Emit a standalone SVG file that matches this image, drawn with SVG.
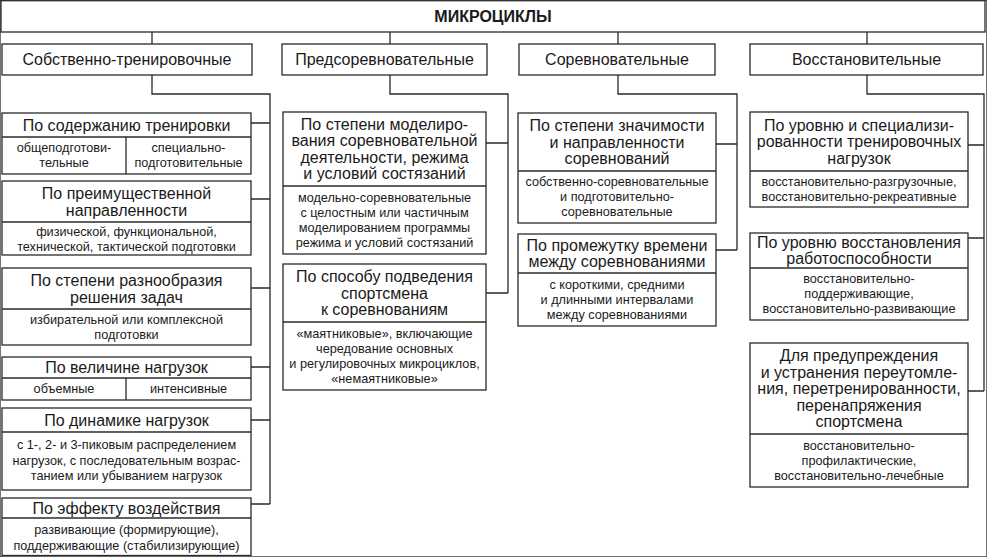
<svg xmlns="http://www.w3.org/2000/svg" width="987" height="557" viewBox="0 0 987 557">
<style>
rect, line.d {fill:#fff;stroke:#2a2a2a;stroke-width:1.3}
.d {stroke:#2a2a2a;stroke-width:1.3}
#connectors path {fill:none;stroke:#2a2a2a;stroke-width:1.3}
text {font-family:"Liberation Sans",Arial,sans-serif;fill:#1a1a1a;text-anchor:middle}
.t {font-size:16px;font-weight:bold}
.h {font-size:16px}
.c {font-size:12.7px}
</style>
<rect width="987" height="557" fill="#fff" stroke="none"/>
<g id="connectors">
<path d="M152 32V44M390 32V44M618 32V44M867 32V44"/>
<path d="M152 75V94H270V504M251 123H270M251 199H270M251 288H270M251 367H270M251 420H270M251 504H270"/>
<path d="M390 75V94H508V293M486 143H508M486 293H508"/>
<path d="M618 75V94H737V250M716 144H737M716 250H737"/>
<path d="M867 75V94H984V391M968 145H984M968 238H984M968 391H984"/>
</g>
<g id="root">
<rect x="1" y="0.7" width="984" height="31.3"/>
<text class="t" x="493" y="22">МИКРОЦИКЛЫ</text>
</g>
<g id="cat1"><rect x="2" y="44" width="250" height="31"/><text class="h" x="127" y="65.3">Собственно-тренировочные</text></g>
<g id="cat2"><rect x="282" y="44" width="205" height="31"/><text class="h" x="384.5" y="65.3">Предсоревновательные</text></g>
<g id="cat3"><rect x="519" y="44" width="196" height="31"/><text class="h" x="617" y="65.3">Соревновательные</text></g>
<g id="cat4"><rect x="750" y="44" width="233" height="31"/><text class="h" x="866.5" y="65.3">Восстановительные</text></g>

<g id="a">
<rect x="2" y="113" width="249" height="61"/>
<line class="d" x1="2" y1="137" x2="251" y2="137"/>
<line class="d" x1="126" y1="137" x2="126" y2="174"/>
<text class="h" x="126.5" y="130.6">По содержанию тренировки</text>
<text class="c" x="64" y="152.4">общеподготови-</text>
<text class="c" x="64" y="167.4">тельные</text>
<text class="c" x="188.5" y="152.4">специально-</text>
<text class="c" x="188.5" y="167.4">подготовительные</text>
</g>
<g id="b">
<rect x="2" y="181" width="249" height="74"/>
<line class="d" x1="2" y1="222" x2="251" y2="222"/>
<text class="h" x="126.5" y="198.6">По преимущественной</text>
<text class="h" x="126.5" y="215.6">направленности</text>
<text class="c" x="126.5" y="236">физической, функциональной,</text>
<text class="c" x="126.5" y="251">технической, тактической подготовки</text>
</g>
<g id="c">
<rect x="2" y="268" width="249" height="77"/>
<line class="d" x1="2" y1="309" x2="251" y2="309"/>
<text class="h" x="126.5" y="285.6">По степени разнообразия</text>
<text class="h" x="126.5" y="302.6">решения задач</text>
<text class="c" x="126.5" y="324.4">избирательной или комплексной</text>
<text class="c" x="126.5" y="339.4">подготовки</text>
</g>
<g id="d">
<rect x="2" y="357" width="249" height="43"/>
<line class="d" x1="2" y1="378" x2="251" y2="378"/>
<line class="d" x1="126" y1="378" x2="126" y2="400"/>
<text class="h" x="126.5" y="373.1">По величине нагрузок</text>
<text class="c" x="64" y="393.4">объемные</text>
<text class="c" x="188.5" y="393.4">интенсивные</text>
</g>
<g id="e">
<rect x="2" y="408" width="249" height="82"/>
<line class="d" x1="2" y1="432" x2="251" y2="432"/>
<text class="h" x="126.5" y="425.6">По динамике нагрузок</text>
<text class="c" x="126.5" y="449">с 1-, 2- и  3-пиковым распределением</text>
<text class="c" x="126.5" y="464.5">нагрузок, с последовательным возрас-</text>
<text class="c" x="126.5" y="480">танием или убыванием нагрузок</text>
</g>
<g id="f">
<rect x="2" y="498" width="249" height="57.5"/>
<line class="d" x1="2" y1="518" x2="251" y2="518"/>
<text class="h" x="126.5" y="513.6">По эффекту воздействия</text>
<text class="c" x="126.5" y="534">развивающие (формирующие),</text>
<text class="c" x="126.5" y="549.5">поддерживающие (стабилизирующие)</text>
</g>

<g id="g">
<rect x="283" y="112" width="203" height="142"/>
<line class="d" x1="283" y1="186" x2="486" y2="186"/>
<text class="h" x="384.5" y="129.8">По степени моделиро-</text>
<text class="h" x="384.5" y="146.3">вания соревновательной</text>
<text class="h" x="384.5" y="162.8">деятельности, режима</text>
<text class="h" x="384.5" y="179.3">и условий состязаний</text>
<text class="c" x="384.5" y="202">модельно-соревновательные</text>
<text class="c" x="384.5" y="217">с целостным или частичным</text>
<text class="c" x="384.5" y="232">моделированием программы</text>
<text class="c" x="384.5" y="247">режима и условий состязаний</text>
</g>
<g id="h">
<rect x="283" y="264" width="203" height="126"/>
<line class="d" x1="283" y1="322" x2="486" y2="322"/>
<text class="h" x="384.5" y="282.1">По способу подведения</text>
<text class="h" x="384.5" y="298.6">спортсмена</text>
<text class="h" x="384.5" y="315.1">к соревнованиям</text>
<text class="c" x="384.5" y="338">«маятниковые», включающие</text>
<text class="c" x="384.5" y="353">чередование основных</text>
<text class="c" x="384.5" y="368">и регулировочных микроциклов,</text>
<text class="c" x="384.5" y="383">«немаятниковые»</text>
</g>

<g id="i">
<rect x="518" y="113" width="198" height="110"/>
<line class="d" x1="518" y1="171" x2="716" y2="171"/>
<text class="h" x="617" y="131.1">По степени значимости</text>
<text class="h" x="617" y="147.6">и направленности</text>
<text class="h" x="617" y="164.1">соревнований</text>
<text class="c" x="617" y="186.4">собственно-соревновательные</text>
<text class="c" x="617" y="201.4">и подготовительно-</text>
<text class="c" x="617" y="216.4">соревновательные</text>
</g>
<g id="j">
<rect x="518" y="234" width="198" height="92"/>
<line class="d" x1="518" y1="273" x2="716" y2="273"/>
<text class="h" x="617" y="250.8">По промежутку времени</text>
<text class="h" x="617" y="267.3">между соревнованиями</text>
<text class="c" x="617" y="289">с короткими, средними</text>
<text class="c" x="617" y="304">и длинными интервалами</text>
<text class="c" x="617" y="319">между соревнованиями</text>
</g>

<g id="k">
<rect x="750" y="112" width="218" height="95"/>
<line class="d" x1="750" y1="171" x2="968" y2="171"/>
<text class="h" x="859" y="130.6">По уровню и специализи-</text>
<text class="h" x="859" y="147.1">рованности тренировочных</text>
<text class="h" x="859" y="163.6">нагрузок</text>
<text class="c" x="859" y="185.9">восстановительно-разгрузочные,</text>
<text class="c" x="859" y="200.9">восстановительно-рекреативные</text>
</g>
<g id="l">
<rect x="750" y="233" width="218" height="87"/>
<line class="d" x1="750" y1="268" x2="968" y2="268"/>
<text class="h" x="859" y="247.8">По уровню восстановления</text>
<text class="h" x="859" y="264.3">работоспособности</text>
<text class="c" x="859" y="283.4">восстановительно-</text>
<text class="c" x="859" y="298.4">поддерживающие,</text>
<text class="c" x="859" y="313.4">восстановительно-развивающие</text>
</g>
<g id="m">
<rect x="750" y="343" width="218" height="144"/>
<line class="d" x1="750" y1="434" x2="968" y2="434"/>
<text class="h" x="859" y="361.1">Для предупреждения</text>
<text class="h" x="859" y="377.6">и устранения переутомле-</text>
<text class="h" x="859" y="394.1">ния, перетренированности,</text>
<text class="h" x="859" y="410.6">перенапряжения</text>
<text class="h" x="859" y="427.1">спортсмена</text>
<text class="c" x="859" y="449.9">восстановительно-</text>
<text class="c" x="859" y="464.9">профилактические,</text>
<text class="c" x="859" y="479.9">восстановительно-лечебные</text>
</g>
</svg>
